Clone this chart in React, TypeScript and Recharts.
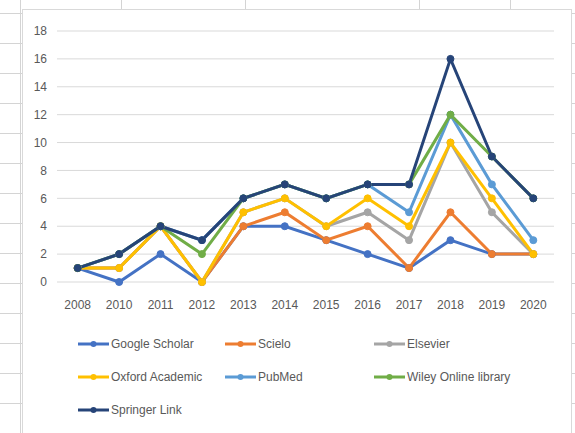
import React from 'react';
import { LineChart, Line, XAxis, YAxis, CartesianGrid, Legend } from 'recharts';

// Publications per year, by database
const YEARS = ['2008', '2010', '2011', '2012', '2013', '2014', '2015', '2016', '2017', '2018', '2019', '2020'];
const GOOGLE_SCHOLAR = [1, 0, 2, 0, 4, 4, 3, 2, 1, 3, 2, 2];
const SCIELO = [1, 1, 4, 0, 4, 5, 3, 4, 1, 5, 2, 2];
const ELSEVIER = [1, 1, 4, 0, 5, 6, 4, 5, 3, 10, 5, 2];
const OXFORD = [1, 1, 4, 0, 5, 6, 4, 6, 4, 10, 6, 2];
const PUBMED = [1, 2, 4, 3, 6, 7, 6, 7, 5, 12, 7, 3];
const WILEY = [1, 2, 4, 2, 6, 7, 6, 7, 7, 12, 9, 6];
const SPRINGER = [1, 2, 4, 3, 6, 7, 6, 7, 7, 16, 9, 6];
const Y_TICKS = [0, 2, 4, 6, 8, 10, 12, 14, 16, 18];

const SERIES = [
  { key: 'gs', name: 'Google Scholar', values: GOOGLE_SCHOLAR, color: '#4472C4' },
  { key: 'scielo', name: 'Scielo', values: SCIELO, color: '#ED7D31' },
  { key: 'elsevier', name: 'Elsevier', values: ELSEVIER, color: '#A5A5A5' },
  { key: 'oxford', name: 'Oxford Academic', values: OXFORD, color: '#FFC000' },
  { key: 'pubmed', name: 'PubMed', values: PUBMED, color: '#5B9BD5' },
  { key: 'wiley', name: 'Wiley Online library', values: WILEY, color: '#70AD47' },
  { key: 'springer', name: 'Springer Link', values: SPRINGER, color: '#264478' },
];
const SERIES_ORDER = SERIES.map((s) => s.name);

const data = YEARS.map((year, i) => {
  const row: Record<string, any> = { year };
  SERIES.forEach((s) => (row[s.key] = s.values[i]));
  return row;
});

const FONT = '"Liberation Sans", Arial, sans-serif';
const TEXT = '#595959';
const SHEET_LINE = '#D4D4D4';

function SheetBackground() {
  // spreadsheet cell borders showing around the chart object
  const rows = Array.from({ length: 15 }, (_, i) => 13 + i * 30);
  const cols = [121, 245, 419, 510];
  return (
    <>
      {rows.map((y) => (
        <div key={'l' + y} style={{ position: 'absolute', left: 0, top: y, width: 22, height: 1, background: SHEET_LINE }} />
      ))}
      {rows.map((y) => (
        <div key={'r' + y} style={{ position: 'absolute', left: 571, top: y, width: 4, height: 1, background: SHEET_LINE }} />
      ))}
      {cols.map((x) => (
        <div key={'c' + x} style={{ position: 'absolute', left: x, top: 0, width: 1, height: 9, background: SHEET_LINE }} />
      ))}
      <div style={{ position: 'absolute', left: 20, top: 0, width: 1, height: 433, background: SHEET_LINE }} />
    </>
  );
}

function LegendContent({ payload }: any) {
  // keep series order (recharts sorts legend items by name otherwise)
  const items = [...(payload || [])].sort(
    (a: any, b: any) => SERIES_ORDER.indexOf(a.value) - SERIES_ORDER.indexOf(b.value)
  );
  return (
    <div
      style={{
        display: 'grid',
        gridTemplateColumns: '147px 149px 160px',
        rowGap: 17,
        fontFamily: FONT,
        fontSize: 12,
        color: TEXT,
      }}
    >
      {items.map((p: any) => (
        <div key={p.value} style={{ display: 'flex', alignItems: 'center', height: 16, whiteSpace: 'nowrap' }}>
          <svg width={33} height={10} style={{ flexShrink: 0 }}>
            <line x1={0} y1={5} x2={31} y2={5} stroke={p.color} strokeWidth={3} />
            <circle cx={15.5} cy={5} r={3} fill={p.color} />
          </svg>
          <span>{p.value}</span>
        </div>
      ))}
    </div>
  );
}

export default function App() {
  return (
    <div style={{ position: 'fixed', left: 0, top: 0, width: 575, height: 433, background: '#fff', overflow: 'hidden' }}>
      <SheetBackground />
      {/* chart object frame */}
      <div
        style={{
          position: 'absolute',
          left: 22,
          top: 9,
          width: 548,
          height: 440,
          border: '1px solid #D9D9D9',
          background: '#fff',
        }}
      />
      <div style={{ position: 'absolute', left: 0, top: 0 }}>
        <LineChart width={575} height={433} data={data} margin={{ top: 31, right: 21, bottom: 121, left: 17 }}>
          <CartesianGrid vertical={false} stroke="#D9D9D9" strokeWidth={1} />
          <XAxis
            dataKey="year"
            axisLine={false}
            tickLine={false}
            tickSize={0}
            tickMargin={18}
            height={30}
            padding={{ left: 20.7, right: 20.7 }}
            interval={0}
            tick={{ fontFamily: FONT, fontSize: 12, fill: TEXT }}
          />
          <YAxis
            domain={[0, 18]}
            ticks={Y_TICKS}
            axisLine={false}
            tickLine={false}
            tickSize={0}
            tickMargin={10}
            width={40}
            interval={0}
            tick={{ fontFamily: FONT, fontSize: 12, fill: TEXT }}
          />
          <Legend
            layout="horizontal"
            verticalAlign="middle"
            align="center"
            wrapperStyle={{ left: 78, top: 336, width: 480 }}
            content={<LegendContent />}
          />
          {SERIES.map((s) => (
            <Line
              key={s.key}
              type="linear"
              dataKey={s.key}
              name={s.name}
              stroke={s.color}
              strokeWidth={3}
              dot={{ r: 3.5, fill: s.color, stroke: s.color, strokeWidth: 1 }}
              activeDot={false}
              isAnimationActive={false}
            />
          ))}
        </LineChart>
      </div>
    </div>
  );
}
